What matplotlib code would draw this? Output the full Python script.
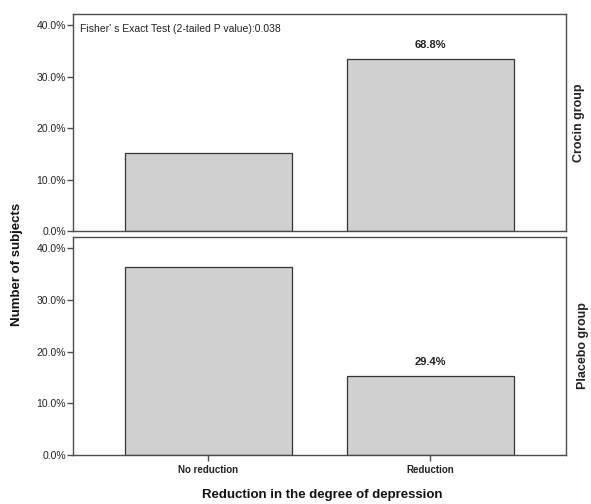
import matplotlib.pyplot as plt
import numpy as np

plt.rcParams['font.family'] = ['Liberation Sans', 'DejaVu Sans']

# --- data ---
categories = ['No reduction', 'Reduction']
groups = ['Crocin group', 'Placebo group']
crocin_pct = [15.1, 33.4]
placebo_pct = [36.4, 15.2]
bar_labels = {'Crocin group': (1, '68.8%'), 'Placebo group': (1, '29.4%')}
fisher_text = "Fisher' s Exact Test (2-tailed P value):0.038"

spine_color = '#4d4d4d'
bar_color = '#d0d0d0'

fig = plt.figure(figsize=(5.91, 5.04), dpi=100)
ax_top = fig.add_axes([0.1235, 0.5417, 0.834, 0.4305])
ax_bot = fig.add_axes([0.1235, 0.0972, 0.834, 0.4325])

# strip label offsets (axes fraction); placebo one sits further right, near the edge
strip_x = {'Crocin group': 1.014, 'Placebo group': 1.023}

x = np.arange(len(categories))
for ax, group, vals in zip([ax_top, ax_bot], groups, [crocin_pct, placebo_pct]):
    ax.bar(x, vals, width=0.75, color=bar_color, edgecolor='#333333', linewidth=0.9)
    ax.set_xlim(-0.61, 1.61)
    ax.set_ylim(0, 42.2)
    ax.set_yticks([0, 10, 20, 30, 40])
    ax.set_yticklabels(['%.1f%%' % v for v in [0, 10, 20, 30, 40]], fontsize=7.5, color='#222222')
    ax.tick_params(axis='y', direction='out', length=4, width=1.0, color=spine_color, pad=1)
    for s in ax.spines.values():
        s.set_color(spine_color)
        s.set_linewidth(1.0)
    idx, lab = bar_labels[group]
    ax.text(x[idx], vals[idx] + 1.8, lab, ha='center', va='bottom', fontsize=8,
            fontweight='bold', color='#222222')
    ax.text(strip_x[group], 0.5, group, transform=ax.transAxes, rotation=90, ha='left',
            va='center', fontsize=9, fontweight='bold', color='#222222')

ax_top.set_xticks([])
ax_top.text(0.015, 0.93, fisher_text, transform=ax_top.transAxes, ha='left', va='center',
            fontsize=7.5, color='#222222')

ax_bot.set_xticks(x)
ax_bot.set_xticklabels(categories, fontsize=7, fontweight='bold', color='#222222')
ax_bot.tick_params(axis='x', direction='out', length=4, width=1.0, color=spine_color, pad=3)

fig.text(0.029, 0.476, 'Number of subjects', rotation=90, ha='center', va='center',
         fontsize=9.5, fontweight='bold', color='#111111')
fig.text(0.545, 0.018, 'Reduction in the degree of depression', ha='center', va='center',
         fontsize=9.5, fontweight='bold', color='#111111')

fig.savefig('out.png', dpi=100)
